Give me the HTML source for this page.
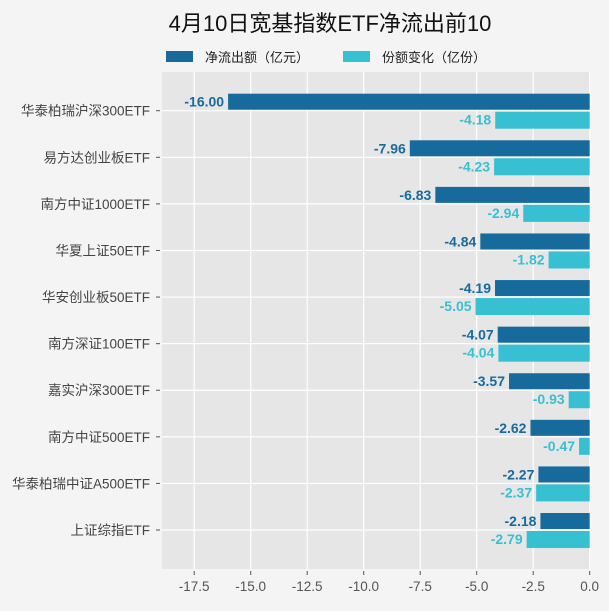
<!DOCTYPE html>
<html><head><meta charset="utf-8"><style>
body{margin:0;background:#f4f4f4;}
svg text{font-family:"Liberation Sans","Noto Sans CJK SC",sans-serif;}
</style></head><body>
<svg width="609" height="606" xmlns="http://www.w3.org/2000/svg">
<rect width="609" height="606" fill="#f4f4f4"/>
<text x="330" y="31" font-size="22" text-anchor="middle" fill="#111">4月10日宽基指数ETF净流出前10</text>
<rect x="166" y="51" width="27" height="11" fill="#176b9c"/>
<text x="205" y="62" font-size="13" fill="#222">净流出额（亿元）</text>
<rect x="343" y="51" width="27" height="11" fill="#36c0d2"/>
<text x="382" y="62" font-size="13" fill="#222">份额变化（亿份）</text>
<rect x="162" y="72" width="428" height="497" fill="#e6e6e6"/>
</svg>
<script>
const ns="http://www.w3.org/2000/svg",svg=document.querySelector('svg');
function el(t,a,txt){const e=document.createElementNS(ns,t);for(const k in a)e.setAttribute(k,a[k]);if(txt!=null)e.textContent=txt;svg.appendChild(e);return e;}
const X=v=>589.7+v*22.6;
for(let v=-17.5;v<=0.01;v+=2.5){const x=X(v);el('line',{x1:x,x2:x,y1:72,y2:569,stroke:'#fff','stroke-width':1.2});
el('line',{x1:x,x2:x,y1:571,y2:575,stroke:'#555'});
el('text',{x:x,y:591,'font-size':13.5,'text-anchor':'middle',fill:'#555'},v.toFixed(1));}
const d=[["华泰柏瑞沪深300ETF",-16.00,-4.18],["易方达创业板ETF",-7.96,-4.23],["南方中证1000ETF",-6.83,-2.94],["华夏上证50ETF",-4.84,-1.82],["华安创业板50ETF",-4.19,-5.05],["南方深证100ETF",-4.07,-4.04],["嘉实沪深300ETF",-3.57,-0.93],["南方中证500ETF",-2.62,-0.47],["华泰柏瑞中证A500ETF",-2.27,-2.37],["上证综指ETF",-2.18,-2.79]];
d.forEach((r,i)=>{const c=110.7+i*46.59;
el('line',{x1:162,x2:590,y1:c,y2:c,stroke:'#fff','stroke-width':1.2});
el('line',{x1:156,x2:160,y1:c,y2:c,stroke:'#555'});
el('text',{x:150,y:c+5,'font-size':13.5,'text-anchor':'end',fill:'#444'},r[0]);
el('rect',{x:X(r[1]),y:c-17,width:589.7-X(r[1]),height:16,fill:'#176b9c'});
el('rect',{x:X(r[2]),y:c+1,width:589.7-X(r[2]),height:17,fill:'#36c0d2'});
el('text',{x:X(r[1])-4,y:c-4,'font-size':14,'font-weight':'bold','text-anchor':'end',fill:'#176b9c'},r[1].toFixed(2));
el('text',{x:X(r[2])-4,y:c+14,'font-size':14,'font-weight':'bold','text-anchor':'end',fill:'#36c0d2'},r[2].toFixed(2));
});
</script>
</body></html>
